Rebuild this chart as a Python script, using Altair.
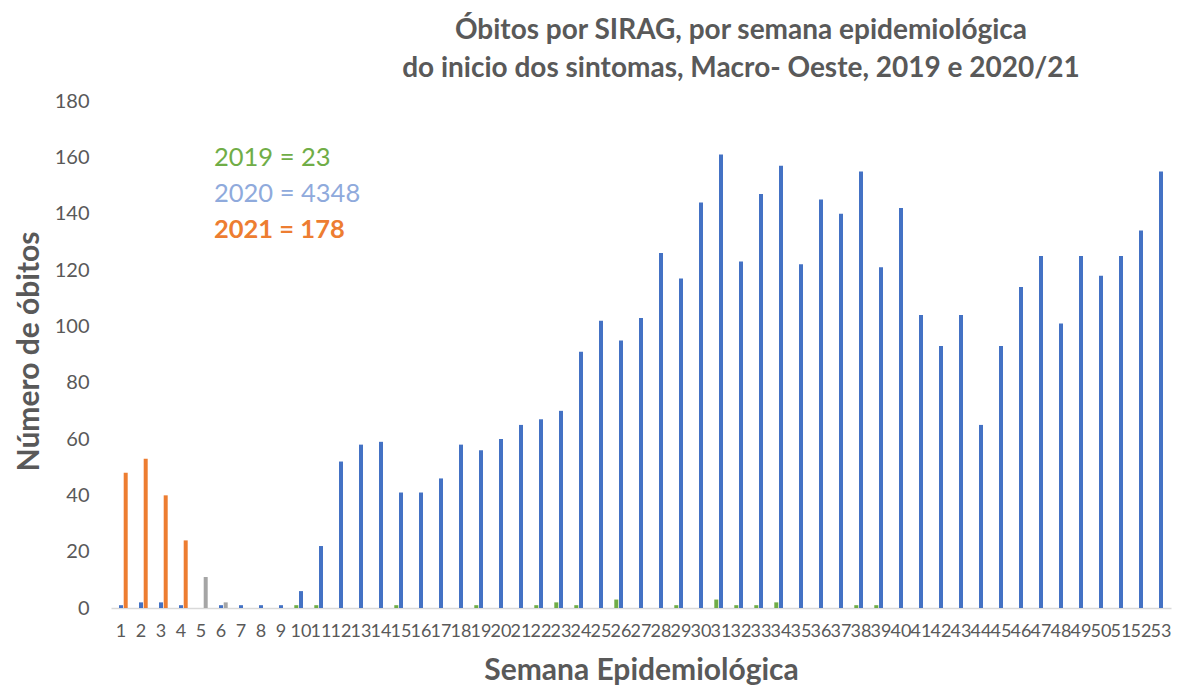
import altair as alt
import pandas as pd

weeks = list(range(1, 54))

deaths_2019 = [0, 0, 0, 0, 0, 0, 0, 0, 0, 1,
               1, 0, 0, 0, 1, 0, 0, 0, 1, 0,
               0, 1, 2, 1, 0, 3, 0, 0, 1, 0,
               3, 1, 1, 2, 0, 0, 0, 1, 1, 0,
               0, 0, 0, 0, 0, 0, 0, 0, 0, 0,
               0, 0, 0]

deaths_2020 = [1, 2, 2, 1, 0, 1, 1, 1, 1, 6,
               22, 52, 58, 59, 41, 41, 46, 58, 56, 60,
               65, 67, 70, 91, 102, 95, 103, 126, 117, 144,
               161, 123, 147, 157, 122, 145, 140, 155, 121, 142,
               104, 93, 104, 65, 93, 114, 125, 101, 125, 118,
               125, 134, 155]

weeks_2021 = [1, 2, 3, 4]
deaths_2021 = [48, 53, 40, 24]
weeks_2021_partial = [5, 6]
deaths_2021_partial = [11, 2]

rows = []
for w, v in zip(weeks, deaths_2019):
    rows.append({"week": w, "year": "2019", "series": "2019", "value": v})
for w, v in zip(weeks, deaths_2020):
    rows.append({"week": w, "year": "2020", "series": "2020", "value": v})
for w, v in zip(weeks_2021, deaths_2021):
    rows.append({"week": w, "year": "2021", "series": "2021", "value": v})
for w, v in zip(weeks_2021_partial, deaths_2021_partial):
    rows.append({"week": w, "year": "2021", "series": "2021p", "value": v})
df = pd.DataFrame(rows)

FONT = "Lato"
GREY = "#595959"

bars = alt.Chart(df).mark_bar().encode(
    x=alt.X("week:O", sort=weeks,
            scale=alt.Scale(domain=weeks, paddingInner=0.33, paddingOuter=0.165),
            axis=alt.Axis(title="Semana Epidemiológica", labelAngle=0,
                          labelFontSize=18, labelColor=GREY, labelFont=FONT,
                          labelPadding=14, labelOverlap=False,
                          titleFontSize=30, titleFont=FONT, titleFontWeight="bold",
                          titleColor=GREY, titlePadding=15,
                          ticks=False, domainColor="#D9D9D9", domainWidth=1.5,
                          grid=False)),
    xOffset=alt.XOffset("year:N", scale=alt.Scale(domain=["2019", "2020", "2021"],
                                                  paddingInner=0.15)),
    y=alt.Y("value:Q",
            scale=alt.Scale(domain=[0, 180], nice=False),
            axis=alt.Axis(title="Número de óbitos", values=list(range(0, 181, 20)),
                          labelFontSize=20, labelColor=GREY, labelFont=FONT,
                          labelPadding=22, ticks=False, domain=False, grid=False,
                          titleFontSize=30, titleFont=FONT, titleFontWeight="bold",
                          titleColor=GREY, titleX=-82, titleY=250,
                          titleBaseline="middle")),
    color=alt.Color("series:N",
                    scale=alt.Scale(domain=["2019", "2020", "2021", "2021p"],
                                    range=["#70AD47", "#4472C4", "#ED7D31", "#A5A5A5"]),
                    legend=None),
)

ann_texts = ["2019 = 23", "2020 = 4348", "2021 = 178"]
ann_colors = ["#70AD47", "#8FAADC", "#ED7D31"]
ann_weights = ["normal", "normal", "bold"]
ann_y = [57, 93, 129]

layers = [bars]
for t, c, wgt, yy in zip(ann_texts, ann_colors, ann_weights, ann_y):
    layers.append(
        alt.Chart(pd.DataFrame({"t": [t]})).mark_text(
            align="left", baseline="middle", fontSize=25.5, font=FONT,
            fontWeight=wgt, color=c
        ).encode(text="t:N", x=alt.value(103), y=alt.value(yy))
    )

chart = alt.layer(*layers).properties(
    width=1060, height=507,
    title=alt.TitleParams(
        text=["Óbitos por SIRAG, por semana epidemiológica",
              "do inicio dos sintomas, Macro- Oeste, 2019 e 2020/21"],
        fontSize=28, font=FONT, fontWeight="bold", color=GREY,
        anchor="middle", dx=100, offset=8, lineHeight=38),
    autosize=alt.AutoSizeParams(type="none"),
    padding={"left": 103, "top": 93, "right": 2, "bottom": 80},
).configure_view(stroke=None)

chart.save("out.html", embed_options={"renderer": "svg", "actions": False})
